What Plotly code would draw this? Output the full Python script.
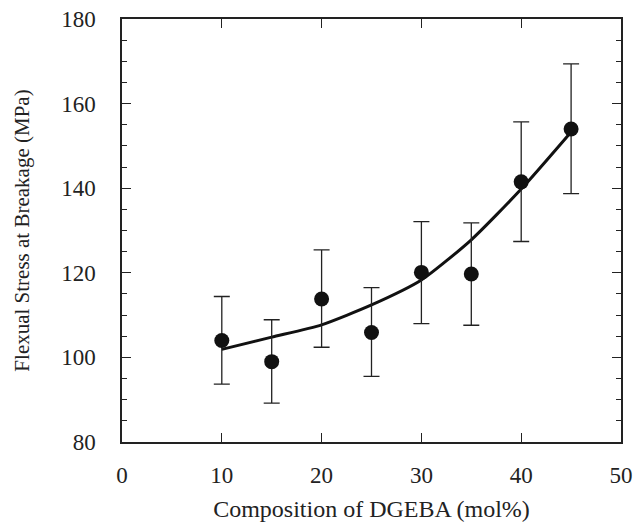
import plotly.graph_objects as go

composition = [10, 15, 20, 25, 30, 35, 40, 45]
stress = [104.0, 99.0, 113.8, 105.9, 120.1, 119.7, 141.5, 154.0]
err_upper = [114.4, 108.9, 125.4, 116.5, 132.1, 131.8, 155.7, 169.4]
err_lower = [93.7, 89.2, 102.4, 95.5, 108.0, 107.6, 127.4, 138.7]
fit_x = [10, 15, 20, 25, 30, 35, 40, 45]
fit_y = [101.9, 104.8, 107.7, 112.4, 118.3, 127.8, 139.8, 153.3]

plus = [u - s for u, s in zip(err_upper, stress)]
minus = [s - l for s, l in zip(stress, err_lower)]

font_family = "Liberation Serif"
ink = "#222222"

fig = go.Figure()
fig.add_trace(go.Scatter(
    x=fit_x, y=fit_y, mode="lines",
    line=dict(color="#111111", width=3, shape="spline", smoothing=0.6),
    showlegend=False, hoverinfo="skip"))
fig.add_trace(go.Scatter(
    x=composition, y=stress, mode="markers",
    marker=dict(color="#111111", size=15),
    error_y=dict(type="data", symmetric=False, array=plus, arrayminus=minus,
                 color=ink, thickness=1.3, width=8),
    showlegend=False))

axis_common = dict(
    showgrid=False, zeroline=False, showline=True, linecolor=ink,
    linewidth=1.5, mirror="ticks", ticks="inside", tickcolor=ink,
    tickwidth=1.3, ticklen=9, ticklabeloverflow="allow",
    tickfont=dict(family=font_family, size=23, color=ink),
)

fig.update_xaxes(
    range=[0, 50], dtick=10, tick0=0,
    title=dict(text="Composition of DGEBA (mol%)",
               font=dict(family=font_family, size=24, color=ink), standoff=13),
    ticklabelstandoff=12,
    **axis_common)
fig.update_yaxes(
    range=[80, 180], dtick=20, tick0=80,
    minor=dict(ticks="inside", dtick=5, ticklen=5, tickcolor=ink, tickwidth=1.3),
    title=dict(text="Flexual Stress at Breakage (MPa)",
               font=dict(family=font_family, size=21, color=ink), standoff=26),
    ticklabelstandoff=20,
    **axis_common)

fig.update_layout(
    width=635, height=529,
    margin=dict(l=122, r=14, t=19, b=87, autoexpand=False),
    paper_bgcolor="white", plot_bgcolor="white",
    font=dict(family=font_family, color=ink),
)

# remove the browser's default 8px body margin so the figure fills the window
fig.write_html("out.html", config={"displayModeBar": False},
               post_script="document.body.style.margin='0px';document.body.style.overflow='hidden';")
